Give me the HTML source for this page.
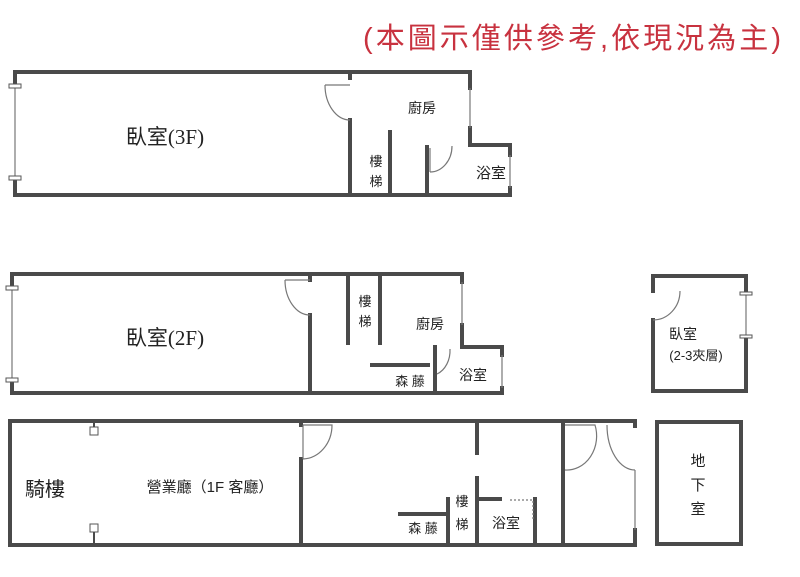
<!DOCTYPE html>
<html><head><meta charset="utf-8"><style>
body{margin:0;background:#fff;}
svg{display:block}
text{font-family:"Liberation Serif","Noto Sans CJK TC",sans-serif;fill:#222}
.c{font-family:"Liberation Sans","Noto Sans CJK TC",sans-serif}
</style></head><body>
<svg width="800" height="577" viewBox="0 0 800 577" xmlns="http://www.w3.org/2000/svg">
<text x="572" y="48" text-anchor="middle" class="c" style="font-size:29px;fill:#c8323f" textLength="418">(本圖示僅供參考,依現況為主)</text>
<g stroke="#4a4a4a" stroke-width="4" fill="none" stroke-linecap="square">
<path d="M15 85 V72 H470 V88 M470 128 V145 H510 V155 M510 188 V195 H15 V178"/>
<path d="M350 72 V78 M350 120 V195 M390 132 V195 M427 147 V195"/>
<path d="M12 287 V274 H462 V282 M462 325 V347 H502 V355 M502 388 V393 H12 V380"/>
<path d="M310 274 V280 M310 315 V393 M348 274 V343 M380 274 V343 M435 347 V393 M372 365 H428"/>
<path d="M653 291 V276 H746 V293 M746 337 V391 H653 V320"/>
<path d="M10 421 H635 V426 M635 530 V545 H10 V421"/>
<path d="M301 421 V425 M301 459 V545 M477 421 V453 M477 478 V545 M477 499 H500 M535 499 V545 M448 499 V545 M400 514 H448 M563 421 V545"/>
<rect x="657" y="422" width="84" height="122"/>
</g>
<g stroke="#777" stroke-width="1.2" fill="none">
<path d="M15 85 V178 M470 88 V128 M510 155 V188 M12 287 V380 M462 282 V325 M502 355 V388 M746 293 V337 M635 470 V530"/>
<path d="M325 85 H350 M325 85 A25 35 0 0 0 350 120"/>
<path d="M452 146 A22 26 0 0 1 430 172 M430 148 V172"/>
<path d="M285 280 H310 M285 280 A25 35 0 0 0 310 315"/>
<path d="M450 349 A20 25 0 0 1 437 374"/>
<path d="M653 320 A27 29 0 0 0 680 291"/>
<path d="M303 425 V459 M303 425 H332 A30 34 0 0 1 303 459"/>
<path d="M565 425 H595 A30 34 0 0 1 565 470"/>
<path d="M607 425 A28 45 0 0 0 635 470"/>
<path d="M510 500 H533 V520" stroke-dasharray="2 2"/>
</g>
<g fill="#fff" stroke="#555" stroke-width="1">
<rect x="9" y="84" width="12" height="4"/><rect x="9" y="176" width="12" height="4"/>
<rect x="6" y="286" width="12" height="4"/><rect x="6" y="378" width="12" height="4"/>
<rect x="90" y="427" width="8" height="8"/><rect x="90" y="524" width="8" height="8"/>
<rect x="740" y="292" width="12" height="3"/><rect x="740" y="335" width="12" height="3"/>
</g>
<path d="M94 421 V427 M94 532 V545" stroke="#4a4a4a" stroke-width="2"/>
<text x="165" y="144" text-anchor="middle" style="font-size:21px">臥室(3F)</text>
<text x="422" y="113" text-anchor="middle" class="c" style="font-size:14px">廚房</text>
<text x="376" y="166" text-anchor="middle" class="c" style="font-size:13px">樓</text>
<text x="376" y="186" text-anchor="middle" class="c" style="font-size:13px">梯</text>
<text x="491" y="178" text-anchor="middle" class="c" style="font-size:15px">浴室</text>
<text x="165" y="345" text-anchor="middle" style="font-size:21px">臥室(2F)</text>
<text x="365" y="306" text-anchor="middle" class="c" style="font-size:13px">樓</text>
<text x="365" y="326" text-anchor="middle" class="c" style="font-size:13px">梯</text>
<text x="430" y="329" text-anchor="middle" class="c" style="font-size:14px">廚房</text>
<text x="473" y="380" text-anchor="middle" class="c" style="font-size:14px">浴室</text>
<text x="410" y="386" text-anchor="middle" class="c" style="font-size:13px">森 藤</text>
<text x="683" y="339" text-anchor="middle" class="c" style="font-size:14px">臥室</text>
<text x="696" y="360" text-anchor="middle" class="c" style="font-size:13px">(2-3夾層)</text>
<text x="45" y="496" text-anchor="middle" class="c" style="font-size:20px">騎樓</text>
<text x="210" y="492" text-anchor="middle" class="c" style="font-size:15px">營業廳（1F 客廳）</text>
<text x="462" y="506" text-anchor="middle" class="c" style="font-size:13px">樓</text>
<text x="462" y="529" text-anchor="middle" class="c" style="font-size:13px">梯</text>
<text x="506" y="528" text-anchor="middle" class="c" style="font-size:14px">浴室</text>
<text x="423" y="533" text-anchor="middle" class="c" style="font-size:13px">森 藤</text>
<text x="698" y="466" text-anchor="middle" class="c" style="font-size:15px">地</text>
<text x="698" y="490" text-anchor="middle" class="c" style="font-size:15px">下</text>
<text x="698" y="514" text-anchor="middle" class="c" style="font-size:15px">室</text>
</svg>
</body></html>
